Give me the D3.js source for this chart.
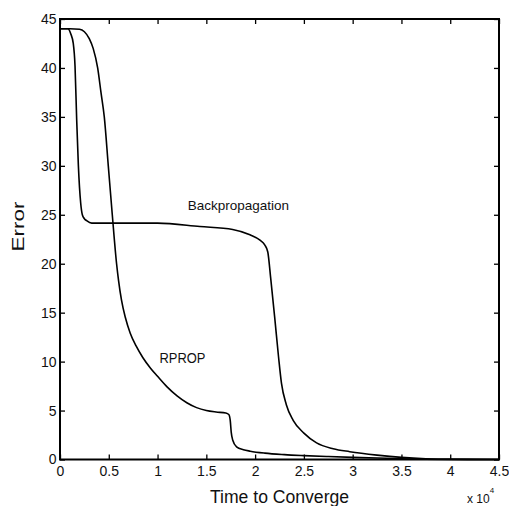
<!DOCTYPE html>
<html>
<head>
<meta charset="utf-8">
<script src="https://cdn.jsdelivr.net/npm/d3@7"></script>
<style>
  body { margin: 0; background: #fff; }
  svg { display: block; font-family: "Liberation Sans", Arial, sans-serif; }
  .axis path { display: none; }
  .axis line { stroke: #000; stroke-width: 1.3; }
  .axis text { font-size: 14px; fill: #111; }
</style>
</head>
<body>
<svg width="509" height="506"></svg>
<script>
// time in units of 10^4, error values
var bpTime  = [0, 0.08, 0.11, 0.136, 0.154, 0.171, 0.188, 0.212, 0.229, 0.25, 0.273, 0.325, 0.5, 1.0, 1.434, 1.77, 1.947, 2.05, 2.1, 2.13, 2.16, 2.2, 2.24, 2.27, 2.32, 2.39, 2.5, 2.63, 2.8, 2.97, 3.25, 3.5, 3.75, 4.0, 4.5];
var bpError = [44, 44, 43.5, 42.5, 40.2, 34.7, 30.1, 26.2, 25, 24.6, 24.4, 24.15, 24.15, 24.15, 23.8, 23.5, 22.95, 22.4, 21.9, 21.2, 18.5, 14.6, 10.5, 7.8, 5.6, 4.0, 2.7, 1.7, 1.1, 0.8, 0.45, 0.22, 0.08, 0.02, 0];

var rpTime  = [0, 0.1, 0.2, 0.25, 0.3, 0.34, 0.386, 0.42, 0.454, 0.495, 0.536, 0.58, 0.6, 0.63, 0.67, 0.72, 0.78, 0.85, 0.93, 1.0, 1.1, 1.2, 1.3, 1.4, 1.5, 1.6, 1.7, 1.73, 1.745, 1.755, 1.77, 1.81, 1.88, 1.95, 2.1, 2.3, 2.5, 2.75, 3.0, 3.25, 3.5, 3.75, 4.0, 4.5];
var rpError = [44, 44, 43.95, 43.7, 43.0, 42.0, 40, 37.5, 35, 30, 25, 20, 18.3, 16.3, 14.5, 12.9, 11.6, 10.4, 9.3, 8.5, 7.4, 6.5, 5.8, 5.3, 5.0, 4.85, 4.75, 4.6, 4.0, 2.8, 2.0, 1.3, 1.0, 0.85, 0.65, 0.5, 0.4, 0.3, 0.22, 0.15, 0.08, 0.03, 0.01, 0];

var xTicks = [0, 0.5, 1, 1.5, 2, 2.5, 3, 3.5, 4, 4.5];
var xTickLabels = ["0", "0.5", "1", "1.5", "2", "2.5", "3", "3.5", "4", "4.5"];
var yTicks = [0, 5, 10, 15, 20, 25, 30, 35, 40, 45];

var svg = d3.select("svg");
var plotLeft = 60, plotRight = 499, plotTop = 19, plotBottom = 459.5;

var x = d3.scaleLinear().domain([0, 4.5]).range([plotLeft, plotRight]);
var y = d3.scaleLinear().domain([0, 45]).range([plotBottom, plotTop]);

// inward ticks on all four sides, labels only bottom/left
svg.append("g").attr("class", "axis")
  .attr("transform", "translate(0," + plotBottom + ")")
  .call(d3.axisBottom(x).tickValues(xTicks).tickSize(-5).tickPadding(7)
    .tickFormat(function(d, i) { return xTickLabels[i]; }));
svg.append("g").attr("class", "axis")
  .attr("transform", "translate(0," + plotTop + ")")
  .call(d3.axisTop(x).tickValues(xTicks).tickSize(-5).tickFormat(""));
svg.append("g").attr("class", "axis")
  .attr("transform", "translate(" + plotLeft + ",0)")
  .call(d3.axisLeft(y).tickValues(yTicks).tickSize(-5).tickPadding(3.5));
svg.append("g").attr("class", "axis")
  .attr("transform", "translate(" + plotRight + ",0)")
  .call(d3.axisRight(y).tickValues(yTicks).tickSize(-5).tickFormat(""));

svg.append("rect")
  .attr("x", plotLeft).attr("y", plotTop)
  .attr("width", plotRight - plotLeft).attr("height", plotBottom - plotTop)
  .attr("fill", "none").attr("stroke", "#000").attr("stroke-width", 2);

var line = d3.line()
  .x(function(d) { return x(d[0]); })
  .y(function(d) { return y(d[1]); })
  .curve(d3.curveMonotoneX);

svg.append("path")
  .datum(d3.zip(bpTime, bpError))
  .attr("d", line)
  .attr("fill", "none").attr("stroke", "#000").attr("stroke-width", 1.6);

svg.append("path")
  .datum(d3.zip(rpTime, rpError))
  .attr("d", line)
  .attr("fill", "none").attr("stroke", "#000").attr("stroke-width", 1.6);

// curve labels
svg.append("text")
  .attr("x", x(1.31)).attr("y", y(25.5))
  .attr("font-size", "13.5px").attr("fill", "#111")
  .text("Backpropagation");
svg.append("text")
  .attr("x", x(1.02)).attr("y", y(9.9))
  .attr("font-size", "14px").attr("fill", "#111")
  .attr("textLength", 46).attr("lengthAdjust", "spacingAndGlyphs")
  .text("RPROP");

// axis titles
svg.append("text")
  .attr("x", (plotLeft + plotRight) / 2).attr("y", 503)
  .attr("text-anchor", "middle")
  .attr("font-size", "17.6px").attr("fill", "#111")
  .text("Time to Converge");
svg.append("text")
  .attr("transform", "translate(24," + y(23.8) + ") rotate(-90)")
  .attr("text-anchor", "middle")
  .attr("font-size", "17px").attr("fill", "#111")
  .attr("textLength", 50).attr("lengthAdjust", "spacingAndGlyphs")
  .text("Error");

// exponent note
var note = svg.append("text")
  .attr("x", 467).attr("y", 503)
  .attr("font-size", "12px").attr("fill", "#111");
note.append("tspan").text("x 10");
note.append("tspan").attr("font-size", "8px").attr("dy", -10).text("4");
</script>
</body>
</html>
